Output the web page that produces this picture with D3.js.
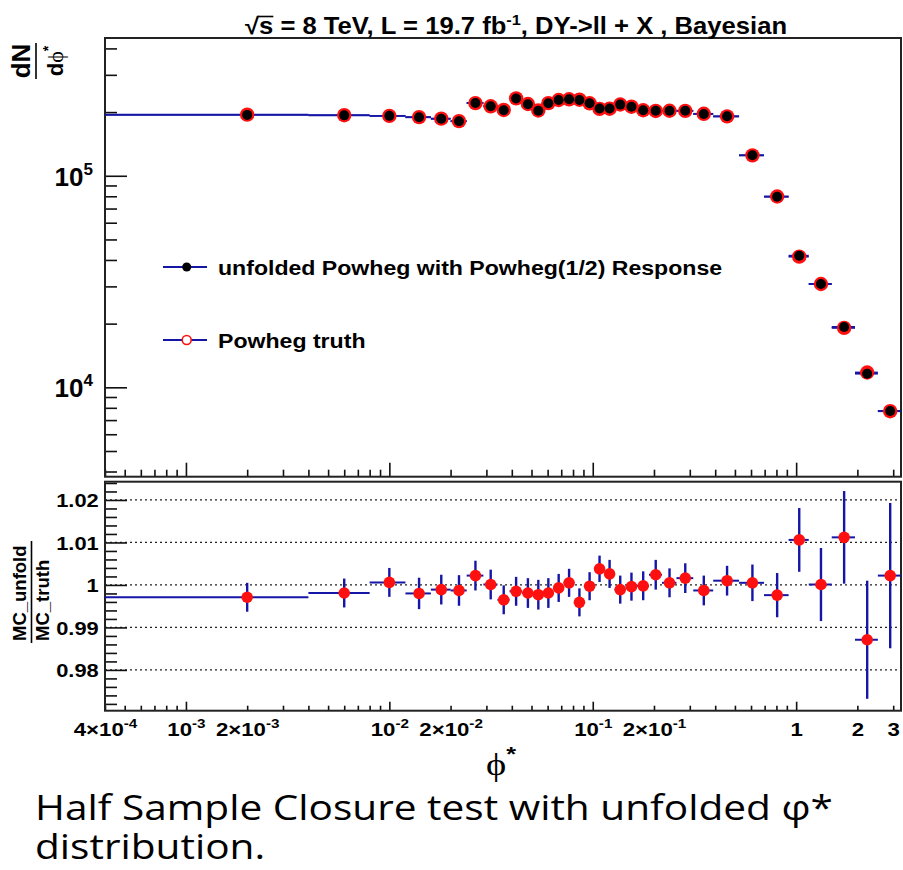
<!DOCTYPE html>
<html>
<head>
<meta charset="utf-8">
<script src="https://cdn.jsdelivr.net/npm/d3@7"></script>
<style>
  body { margin: 0; background: #fff; }
  svg text { font-family: "Liberation Sans", Arial, sans-serif; font-weight: bold; fill: #000; }
  svg text.caption { font-family: "Open Sans", "Noto Sans", sans-serif; font-weight: normal; }
</style>
</head>
<body>
<svg id="chart" width="903" height="870"></svg>
<script>
// phi* bin edges (35 edges, 34 bins)
const binEdges = [0, 0.004, 0.008, 0.012, 0.016, 0.020, 0.024, 0.029, 0.034, 0.039,
  0.045, 0.051, 0.057, 0.064, 0.072, 0.081, 0.091, 0.102, 0.114, 0.128, 0.145,
  0.165, 0.189, 0.219, 0.258, 0.312, 0.391, 0.524, 0.695, 0.918, 1.153, 1.496,
  1.947, 2.522, 3.277];

// dN/dphi* of unfolded Powheg and of Powheg truth
const unfoldedValues = [194000, 193000, 192000, 189000, 186000, 181000, 221000, 213000,
  204000, 232000, 218000, 203000, 220000, 228000, 230000, 228000, 220000, 208000, 208000,
  217000, 212000, 204000, 203000, 203000, 203000, 196000, 191000, 125000, 79600, 41900,
  30800, 19300, 11600, 7730];
const truthValues = [194500, 193400, 191900, 189400, 186200, 181200, 220500, 213000,
  204700, 232300, 218400, 203500, 220400, 228200, 229900, 228900, 220100, 207200, 207500,
  217200, 212100, 204000, 202500, 202900, 202700, 196300, 190800, 124900, 79800, 41460,
  30800, 19090, 11750, 7710];

// MC_unfold / MC_truth with errors
const ratioValues = [0.9971, 0.9981, 1.0006, 0.9980, 0.9989, 0.9987, 1.0022, 1.0001,
  0.9965, 0.9985, 0.9981, 0.9977, 0.9981, 0.9993, 1.0005, 0.9959, 0.9997, 1.0038, 1.0026,
  0.9989, 0.9996, 0.9998, 1.0024, 1.0005, 1.0016, 0.9987, 1.0010, 1.0005, 0.9976, 1.0106,
  1.0001, 1.0112, 0.9871, 1.0022];
const ratioErrors = [0.0034, 0.0034, 0.0034, 0.0037, 0.0035, 0.0036, 0.0035, 0.0035,
  0.0034, 0.0034, 0.0035, 0.0035, 0.0035, 0.0033, 0.0033, 0.0033, 0.0033, 0.0031, 0.0033,
  0.0033, 0.0033, 0.0034, 0.0035, 0.0034, 0.0035, 0.0035, 0.0035, 0.0043, 0.0052, 0.0075,
  0.0086, 0.0109, 0.0139, 0.0171];

// tick labels
const xLabelValues = [4e-4, 1e-3, 2e-3, 1e-2, 2e-2, 0.1, 0.2, 1, 2, 3];
const xLabels = ["4×10^-4", "10^-3", "2×10^-3", "10^-2", "2×10^-2", "10^-1", "2×10^-1", "1", "2", "3"];
const yTopLabelValues = [1e4, 1e5];
const yTopLabels = ["10^4", "10^5"];
const yBotLabelValues = [0.98, 0.99, 1, 1.01, 1.02];
const yBotLabels = ["0.98", "0.99", "1", "1.01", "1.02"];

const legendLabels = ["unfolded Powheg with Powheg(1/2) Response", "Powheg truth"];

const blue = "#1515a6";
const red = "#ff1010";

const svg = d3.select("#chart");

const left = 105, right = 901;
const topT = 38, topB = 476.7;   // upper pad frame
const botT = 481.7, botB = 710.7; // lower pad frame

const x = d3.scaleLog().domain([4e-4, 3.277]).range([left, right]);
const yTop = d3.scaleLog().domain([3780, 448000]).range([topB, topT]);
const yBot = d3.scaleLinear().domain([0.9704, 1.0243]).range([botB, botT]);

// write "a^b" as text with a superscript
function supText(sel, supSize, rise) {
  sel.each(function () {
    const s = d3.select(this).text();
    const parts = s.split("^");
    const t = d3.select(this).text(null);
    t.append("tspan").text(parts[0]);
    if (parts[1]) {
      t.append("tspan").attr("font-size", supSize).attr("dy", -rise).text(parts[1]);
    }
  });
}

// the picture is a bit wider than tall, text glyphs are stretched
function stretched(parent, px, py, sx) {
  return parent.append("text").attr("transform", "translate(" + px + "," + py + ") scale(" + sx + ",1)");
}

// tick positions
const xTicks = [];
for (let e = -4; e <= 0; e++) {
  for (let m = 1; m <= 9; m++) {
    const v = +(m + "e" + e);
    if (v >= x.domain()[0] && v <= x.domain()[1]) xTicks.push(v);
  }
}
const isMajorX = (v) => Math.abs(Math.log10(v) - Math.round(Math.log10(v))) < 1e-9;

const yTopTicks = [];
for (let e = 3; e <= 5; e++) {
  for (let m = 1; m <= 9; m++) {
    const v = +(m + "e" + e);
    if (v >= yTop.domain()[0] && v <= yTop.domain()[1]) yTopTicks.push(v);
  }
}

const yBotTicks = d3.range(486, 513).map((k) => k / 500); // every 0.002
const isMajorYB = (v) => Math.abs(v * 100 - Math.round(v * 100)) < 1e-6;

// ---- lower pad grid
svg.append("g")
  .selectAll("line")
  .data(yBotLabelValues)
  .join("line")
  .attr("x1", left)
  .attr("x2", right)
  .attr("y1", (d) => yBot(d))
  .attr("y2", (d) => yBot(d))
  .attr("stroke", "#222")
  .attr("stroke-width", 1.2)
  .attr("stroke-dasharray", "2,3");

// ---- axes upper pad
svg.append("g")
  .attr("transform", "translate(0," + topB + ")")
  .call(d3.axisBottom(x).tickValues(xTicks).tickSize(-14).tickFormat(""))
  .call((g) => g.select(".domain").remove())
  .call((g) => g.selectAll(".tick line")
    .attr("y2", (d) => (isMajorX(d) ? -14 : -7))
    .attr("stroke", "#111").attr("stroke-width", 1.6));

svg.append("g")
  .attr("transform", "translate(" + left + ",0)")
  .call(d3.axisLeft(yTop).tickValues(yTopTicks).tickSize(-22).tickFormat(""))
  .call((g) => g.select(".domain").remove())
  .call((g) => g.selectAll(".tick line")
    .attr("x2", (d) => (yTopLabelValues.includes(d) ? 22 : 12))
    .attr("stroke", "#111").attr("stroke-width", 1.6));

svg.append("g")
  .attr("transform", "translate(" + left + ",0)")
  .call(d3.axisLeft(yTop).tickValues(yTopLabelValues).tickSize(0).tickPadding(12)
    .tickFormat((d, i) => yTopLabels[i]))
  .call((g) => g.select(".domain").remove())
  .call((g) => g.selectAll(".tick text")
    .attr("font-size", 26).attr("dy", "0.36em").call(supText, 17, 11));

// ---- axes lower pad
svg.append("g")
  .attr("transform", "translate(0," + botB + ")")
  .call(d3.axisBottom(x).tickValues(xTicks).tickSize(-9).tickFormat(""))
  .call((g) => g.select(".domain").remove())
  .call((g) => g.selectAll(".tick line")
    .attr("y2", (d) => (isMajorX(d) ? -9 : -5))
    .attr("stroke", "#111").attr("stroke-width", 1.6));

svg.append("g")
  .attr("transform", "translate(0," + botB + ")")
  .call(d3.axisBottom(x).tickValues(xLabelValues).tickSize(0).tickPadding(10)
    .tickFormat((d, i) => xLabels[i]))
  .call((g) => g.select(".domain").remove())
  .call((g) => g.selectAll(".tick text")
    .attr("font-size", 19).attr("dy", "0.78em").attr("transform", "scale(1.17,1)")
    .call(supText, 13, 8));

svg.append("g")
  .attr("transform", "translate(" + left + ",0)")
  .call(d3.axisLeft(yBot).tickValues(yBotTicks).tickSize(-22).tickFormat(""))
  .call((g) => g.select(".domain").remove())
  .call((g) => g.selectAll(".tick line")
    .attr("x2", (d) => (isMajorYB(d) ? 22 : 12))
    .attr("stroke", "#111").attr("stroke-width", 1.6));

svg.append("g")
  .attr("transform", "translate(" + left + ",0)")
  .call(d3.axisLeft(yBot).tickValues(yBotLabelValues).tickSize(0).tickPadding(5.5)
    .tickFormat((d, i) => yBotLabels[i]))
  .call((g) => g.select(".domain").remove())
  .call((g) => g.selectAll(".tick text").attr("font-size", 19).attr("dy", "0.36em")
    .attr("transform", "scale(1.15,1)"));

// ---- frames
svg.append("rect")
  .attr("x", left).attr("y", topT)
  .attr("width", right - left).attr("height", topB - topT)
  .attr("fill", "none").attr("stroke", "#222").attr("stroke-width", 2);
svg.append("rect")
  .attr("x", left).attr("y", botT)
  .attr("width", right - left).attr("height", botB - botT)
  .attr("fill", "none").attr("stroke", "#222").attr("stroke-width", 2);

// ---- bins
const bins = unfoldedValues.map((v, i) => ({
  lo: Math.max(binEdges[i], x.domain()[0]),
  hi: binEdges[i + 1],
  c: (binEdges[i] + binEdges[i + 1]) / 2,
  unf: v,
  tru: truthValues[i],
  r: ratioValues[i],
  e: ratioErrors[i],
}));

// upper pad: bin width lines for both histograms
const upper = svg.append("g");
["unf", "tru"].forEach((key) => {
  upper.append("g")
    .selectAll("line")
    .data(bins)
    .join("line")
    .attr("x1", (d) => x(d.lo))
    .attr("x2", (d) => x(d.hi))
    .attr("y1", (d) => yTop(d[key]))
    .attr("y2", (d) => yTop(d[key]))
    .attr("stroke", blue)
    .attr("stroke-width", 1.8);
});
upper.append("g")
  .selectAll("circle")
  .data(bins)
  .join("circle")
  .attr("cx", (d) => x(d.c))
  .attr("cy", (d) => yTop(d.tru))
  .attr("r", 7.2)
  .attr("fill", red);
upper.append("g")
  .selectAll("circle")
  .data(bins)
  .join("circle")
  .attr("cx", (d) => x(d.c))
  .attr("cy", (d) => yTop(d.unf))
  .attr("r", 5)
  .attr("fill", "#000");

// lower pad: ratio with errors
const lower = svg.append("g");
lower.append("g")
  .selectAll("line")
  .data(bins)
  .join("line")
  .attr("x1", (d) => x(d.lo))
  .attr("x2", (d) => x(d.hi))
  .attr("y1", (d) => yBot(d.r))
  .attr("y2", (d) => yBot(d.r))
  .attr("stroke", blue)
  .attr("stroke-width", 2);
lower.append("g")
  .selectAll("line")
  .data(bins)
  .join("line")
  .attr("x1", (d) => x(d.c))
  .attr("x2", (d) => x(d.c))
  .attr("y1", (d) => yBot(d.r - d.e))
  .attr("y2", (d) => yBot(d.r + d.e))
  .attr("stroke", blue)
  .attr("stroke-width", 2.4);
lower.append("g")
  .selectAll("circle")
  .data(bins)
  .join("circle")
  .attr("cx", (d) => x(d.c))
  .attr("cy", (d) => yBot(d.r))
  .attr("r", 5.8)
  .attr("fill", red);

// ---- legend
const legend = svg.append("g");
const legendY = [267, 340];
legendLabels.forEach((label, i) => {
  const g = legend.append("g").attr("transform", "translate(0," + legendY[i] + ")");
  g.append("line").attr("x1", 163).attr("x2", 207).attr("stroke", blue).attr("stroke-width", 1.8);
  if (i === 0) {
    g.append("circle").attr("cx", 186.7).attr("r", 4.5).attr("fill", "#000");
  } else {
    g.append("circle").attr("cx", 186.7).attr("r", 4.5).attr("fill", "#fff")
      .attr("stroke", red).attr("stroke-width", 1.6);
  }
  stretched(g, 218, 7.5, 1.1).attr("font-size", 21).text(label);
});

// ---- title
const title = stretched(svg, 245, 34, 1.09).attr("font-size", 23.5);
title.append("tspan").text("√s = 8 TeV, L = 19.7 fb");
title.append("tspan").attr("font-size", 15).attr("dy", -9).text("-1");
title.append("tspan").attr("dy", 9).text(", DY->ll + X , Bayesian");
{
  const n = title.node();
  const s0 = n.getStartPositionOfChar(1).x;
  const s1 = n.getEndPositionOfChar(1).x;
  svg.append("line").attr("x1", 245 + (s0 - 1) * 1.09).attr("x2", 245 + s1 * 1.09)
    .attr("y1", 16.5).attr("y2", 16.5).attr("stroke", "#000").attr("stroke-width", 1.6);
}

// ---- y axis titles
const yt = svg.append("g").attr("transform", "translate(36,61) rotate(-90)");
yt.append("text").attr("text-anchor", "middle").attr("y", -6).attr("font-size", 26).text("dN");
yt.append("line").attr("x1", -18).attr("x2", 18).attr("stroke", "#000").attr("stroke-width", 1.6);
const den = yt.append("text").attr("text-anchor", "middle").attr("y", 27).attr("font-size", 22);
den.append("tspan").text("d");
den.append("tspan").attr("font-family", "Liberation Serif, DejaVu Serif, serif").attr("font-weight", "normal").text("ϕ");
den.append("tspan").attr("font-size", 14).attr("dy", -10).text("*");

const yb = svg.append("g").attr("transform", "translate(31.5,641) rotate(-90)");
yb.append("text").attr("y", -6).attr("font-size", 18.5).text("MC_unfold");
yb.append("line").attr("x1", -2).attr("x2", 100).attr("stroke", "#000").attr("stroke-width", 1.6);
yb.append("text").attr("y", 17).attr("font-size", 18.5).text("MC_truth");

// ---- x axis title
const xt = stretched(svg, 486, 775, 1.2).attr("font-size", 32);
xt.append("tspan").attr("font-family", "Liberation Serif, DejaVu Serif, serif").attr("font-weight", "normal").text("ϕ");
xt.append("tspan").attr("font-size", 21).attr("dy", -14).text("*");

// ---- caption
stretched(svg, 35, 820, 1.16).attr("class", "caption")
  .attr("font-size", 35).text("Half Sample Closure test with unfolded φ*");
stretched(svg, 35, 859, 1.16).attr("class", "caption")
  .attr("font-size", 35).text("distribution.");
</script>
</body>
</html>
